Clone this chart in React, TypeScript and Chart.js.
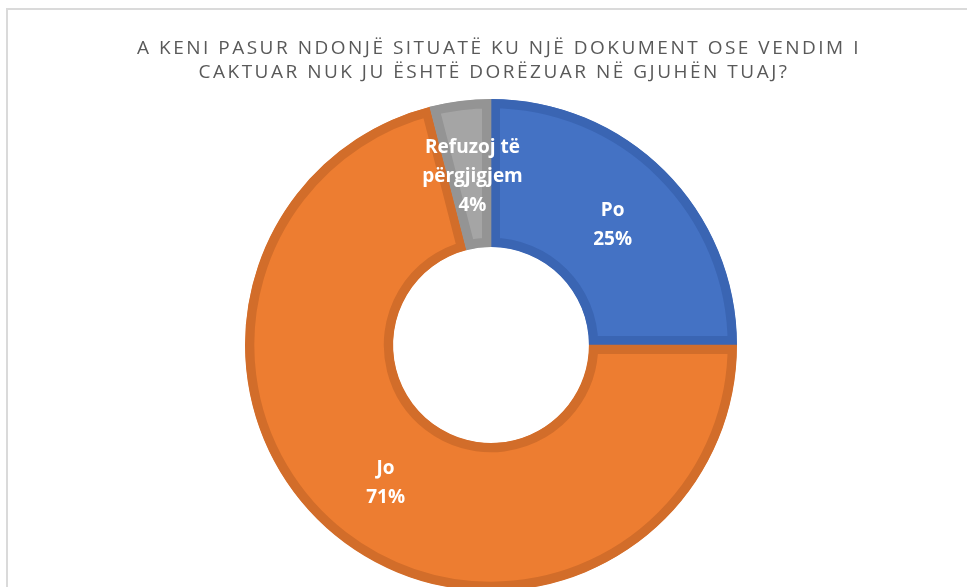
import React, { useEffect, useRef } from "react";
import { Chart, registerables } from "chart.js";

Chart.register(...registerables);

const titleLines = [
  "A KENI PASUR NDONJË SITUATË KU NJË DOKUMENT OSE VENDIM I",
  "CAKTUAR NUK JU ËSHTË DORËZUAR NË GJUHËN TUAJ?",
];
const categories = ["Po", "Jo", "Refuzoj të përgjigjem"];
const labelLines = [["Po"], ["Jo"], ["Refuzoj të", "përgjigjem"]];
const values = [25, 71, 4];
const fillColors = ["#4472C4", "#ED7D31", "#A5A5A5"];
const borderColors = ["#3A65B3", "#D26D2A", "#949494"];

const titlePlugin = {
  id: "customTitle",
  afterDraw(chart: any) {
    const ctx = chart.ctx;
    ctx.save();
    ctx.font = '400 19px "Open Sans"';
    ctx.fillStyle = "#595959";
    ctx.textAlign = "center";
    ctx.textBaseline = "alphabetic";
    try { (ctx as any).letterSpacing = "2.5px"; } catch (e) {}
    ctx.fillText(titleLines[0], 499, 54);
    ctx.fillText(titleLines[1], 494, 78);
    ctx.restore();
  },
};

const labelPlugin = {
  id: "sliceLabels",
  afterDatasetsDraw(chart: any) {
    const ctx = chart.ctx;
    const meta = chart.getDatasetMeta(0);
    const total = values.reduce((a, b) => a + b, 0);
    ctx.save();
    ctx.font = '700 19px "Open Sans"';
    ctx.fillStyle = "#FFFFFF";
    ctx.textAlign = "center";
    ctx.textBaseline = "middle";
    meta.data.forEach((arc: any, i: number) => {
      const pos = arc.tooltipPosition();
      const lines = [...labelLines[i], Math.round((values[i] / total) * 100) + "%"];
      const lh = 29;
      const y0 = pos.y - ((lines.length - 1) * lh) / 2;
      lines.forEach((t, j) => ctx.fillText(t, pos.x + (i === 2 ? 3 : 0), y0 + j * lh + 2));
    });
    ctx.restore();
  },
};

export default function App() {
  const ref = useRef<HTMLCanvasElement>(null);
  useEffect(() => {
    if (!ref.current) return;
    const chart = new Chart(ref.current, {
      type: "doughnut",
      data: {
        labels: categories,
        datasets: [
          {
            data: values,
            backgroundColor: fillColors,
            borderColor: borderColors,
            borderWidth: 9,
            borderAlign: "inner",
            hoverOffset: 0,
          },
        ],
      },
      options: {
        responsive: false,
        animation: false,
        cutout: "39.8%",
        radius: 246,
        layout: { padding: { left: 15, right: 0, top: 0, bottom: 0 } },
        plugins: {
          legend: { display: false },
          tooltip: { enabled: false },
          title: { display: false },
        },
        events: [],
      } as any,
      plugins: [titlePlugin, labelPlugin],
    });
    return () => chart.destroy();
  }, []);
  return (
    <div
      style={{
        position: "fixed",
        left: 0,
        top: 0,
        width: 967,
        height: 587,
        overflow: "hidden",
        background: "#fff",
      }}
    >
      <div
        style={{
          position: "absolute",
          left: 6,
          top: 8,
          right: -10,
          bottom: -10,
          borderTop: "2px solid #dadada",
          borderLeft: "2px solid #dadada",
        }}
      />
      <canvas ref={ref} width={967} height={690} style={{ position: "absolute", left: 0, top: 0 }} />
    </div>
  );
}
